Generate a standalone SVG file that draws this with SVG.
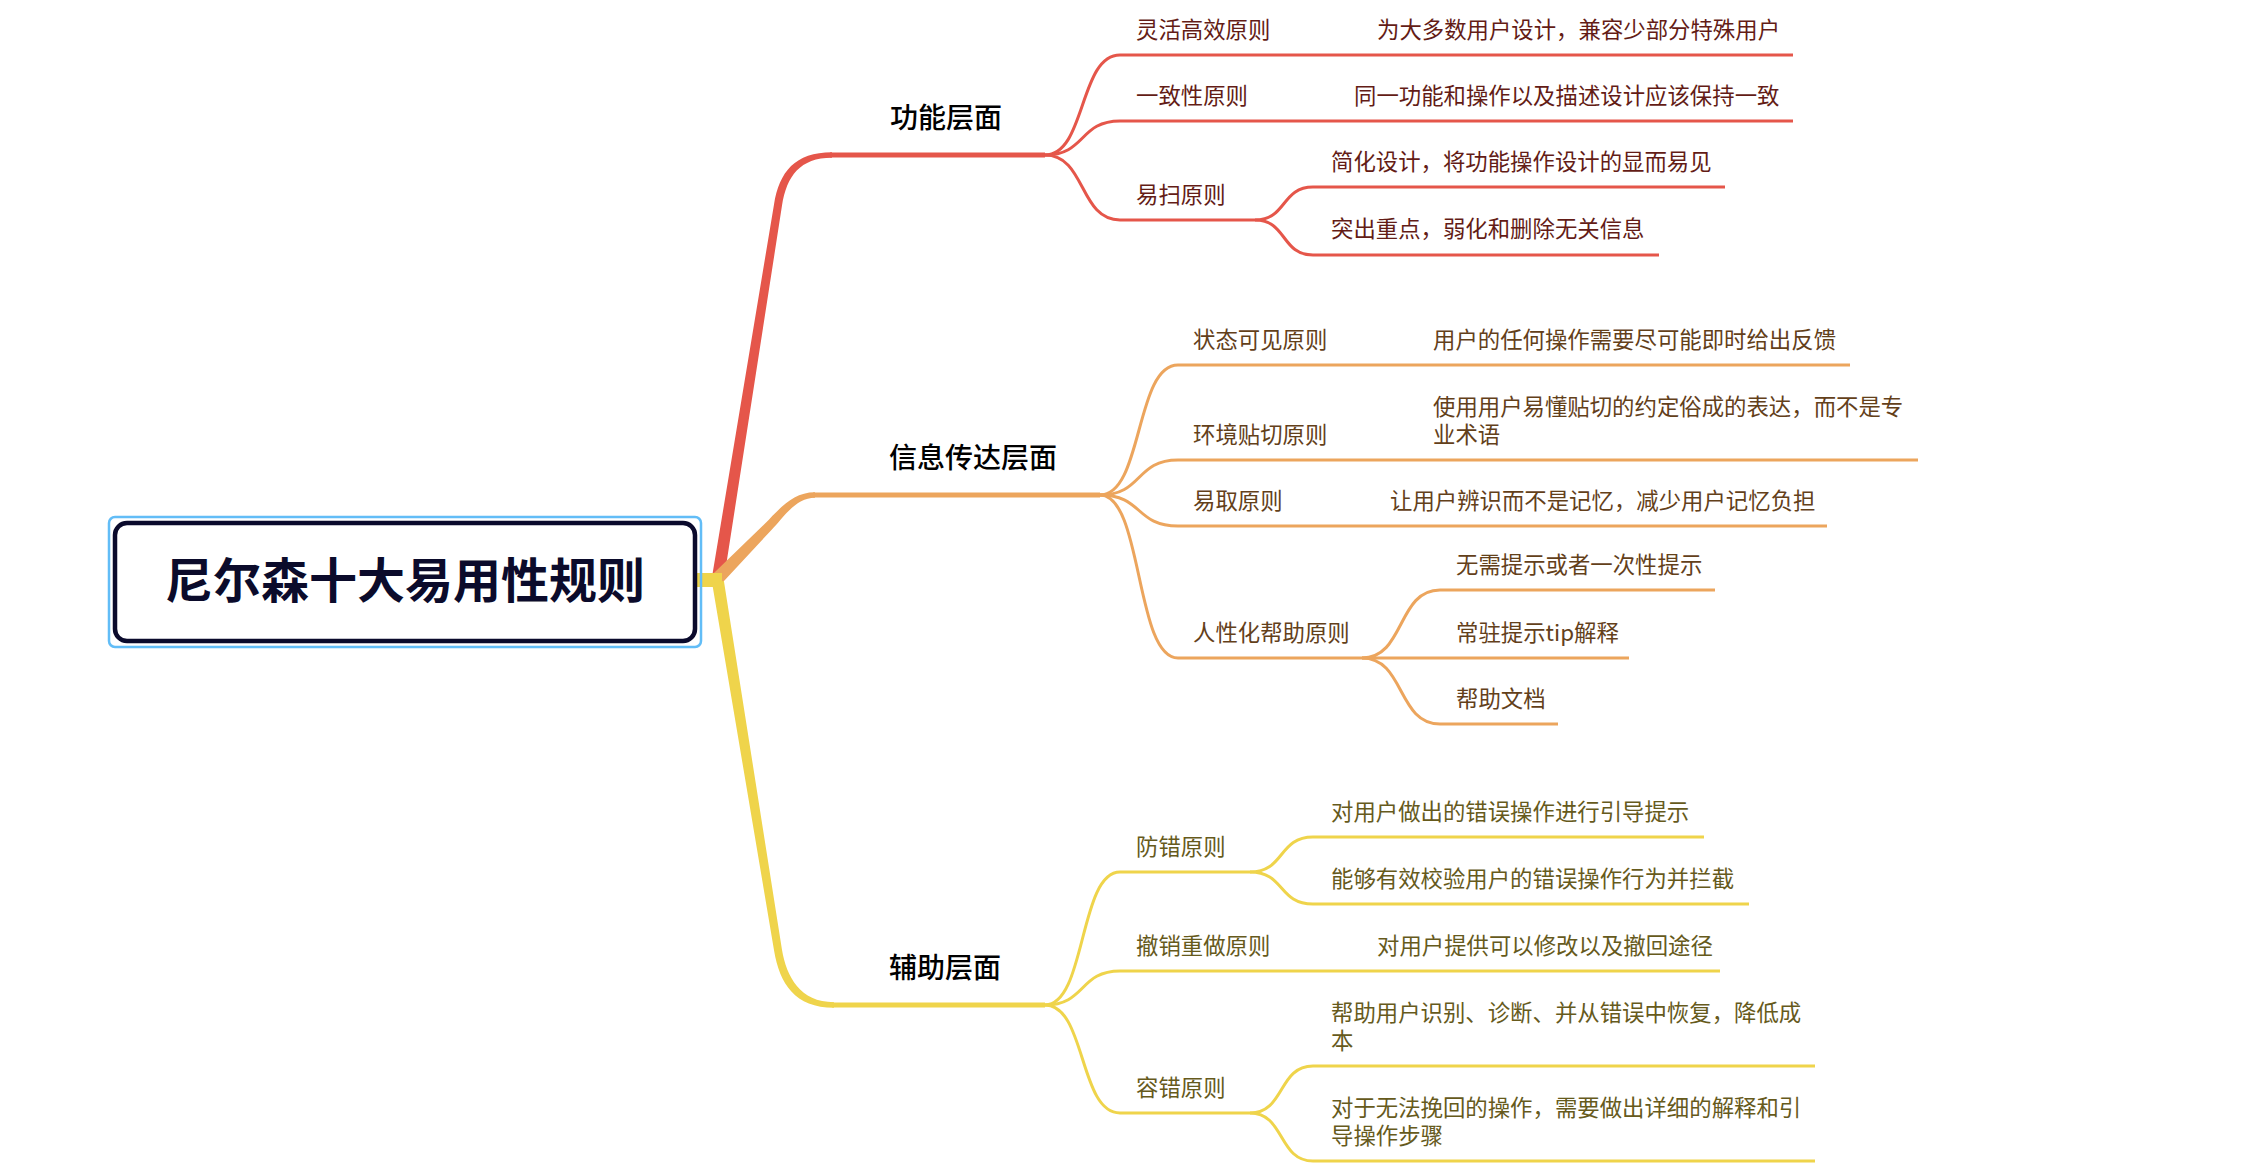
<svg xmlns="http://www.w3.org/2000/svg" width="2258" height="1168" viewBox="0 0 2258 1168">
<style>
text{font-family:"Noto Sans CJK SC","Noto Sans",sans-serif;}
.root{font-size:48px;font-weight:700;fill:#0b0b2b;}
.l1{font-size:28px;font-weight:500;fill:#000;}
.t{font-size:22.4px;}
.tr{fill:#631c16;}
.to{fill:#63401a;}
.ty{fill:#665a1c;}
.lr{stroke:#e5564a;fill:none;}
.lo{stroke:#eca55d;fill:none;}
.ly{stroke:#efd44b;fill:none;}
.w1{stroke-width:5;}
.w2{stroke-width:3;}
</style>
<rect width="2258" height="1168" fill="#ffffff"/>
<g id="connectors">
  <path d="M712,577 L774,204.4 C779.3,171.8 795,152.2 832,152.2 L832,157.8 C800,157.8 786.8,176 782,205.6 L724,579 Z" fill="#e5564a"/>
  <path d="M713.4,573.4 L764.8,523.8 C778.8,509.8 792,492.2 815,492.2 L815,497.8 C795,497.8 782.2,519.2 771.2,530.2 L722.6,582.6 Z" fill="#eca55d"/>
  <rect x="697" y="573" width="25" height="14" fill="#efd44b"/>
  <path d="M723.9,581 L781.9,949.3 C786.5,976.9 800,1002.2 834,1002.2 L834,1007.8 C795,1007.8 779.5,983.3 774.1,950.7 L712.1,583 Z" fill="#efd44b"/>
  <g class="lr w2">
    <path d="M1045,155 C1086,155 1079,55 1120,55"/>
    <path d="M1045,155 C1086,155 1079,121 1120,121"/>
    <path d="M1045,155 C1086,155 1079,220 1120,220"/>
    <path d="M1255,220 C1287,220 1281,187 1313,187"/>
    <path d="M1255,220 C1287,220 1281,255 1313,255"/>
  </g>
  <g class="lo w2">
    <path d="M1100,495 C1143,495 1135,365 1178,365"/>
    <path d="M1100,495 C1143,495 1135,460 1178,460"/>
    <path d="M1100,495 C1143,495 1135,526 1178,526"/>
    <path d="M1100,495 C1143,495 1135,658 1178,658"/>
    <path d="M1362,658 C1405,658 1397,590 1440,590"/>
    <path d="M1362,658 L1440,658"/>
    <path d="M1362,658 C1405,658 1397,724 1440,724"/>
  </g>
  <g class="ly w2">
    <path d="M1045,1005 C1086,1005 1079,872 1120,872"/>
    <path d="M1045,1005 C1086,1005 1079,971 1120,971"/>
    <path d="M1045,1005 C1086,1005 1079,1113 1120,1113"/>
    <path d="M1250,872 C1285,872 1278,837 1313,837"/>
    <path d="M1250,872 C1285,872 1278,904 1313,904"/>
    <path d="M1250,1113 C1285,1113 1278,1066 1313,1066"/>
    <path d="M1250,1113 C1285,1113 1278,1161 1313,1161"/>
  </g>
</g>
<g id="root">
  <rect x="109" y="517" width="592" height="130" rx="6" fill="none" stroke="#62bdf7" stroke-width="2.5"/>
  <rect x="115" y="523" width="580" height="118" rx="12" fill="#ffffff" stroke="#0a0a2c" stroke-width="4.5"/>
  <text class="root" x="405" y="598" text-anchor="middle">尼尔森十大易用性规则</text>
</g>
<g id="b1">
  <line class="lr w1" x1="830" y1="155" x2="1045" y2="155"/>
  <text class="l1" x="890" y="128">功能层面</text>
</g>
<g id="b2">
  <line class="lo w1" x1="813" y1="495" x2="1100" y2="495"/>
  <text class="l1" x="889" y="468">信息传达层面</text>
</g>
<g id="b3">
  <line class="ly w1" x1="832" y1="1005" x2="1045" y2="1005"/>
  <text class="l1" x="889" y="978">辅助层面</text>
</g>
<g id="n-lhgx">
  <line class="lr w2" x1="1120" y1="55" x2="1300" y2="55"/>
  <text class="t tr" x="1136" y="37.5">灵活高效原则</text>
</g>
<g id="n-lhgx-1">
  <line class="lr w2" x1="1300" y1="55" x2="1793" y2="55"/>
  <text class="t tr" x="1377" y="37.5">为大多数用户设计，兼容少部分特殊用户</text>
</g>
<g id="n-yzx">
  <line class="lr w2" x1="1120" y1="121" x2="1300" y2="121"/>
  <text class="t tr" x="1136" y="103.5">一致性原则</text>
</g>
<g id="n-yzx-1">
  <line class="lr w2" x1="1300" y1="121" x2="1793" y2="121"/>
  <text class="t tr" x="1354" y="103.5">同一功能和操作以及描述设计应该保持一致</text>
</g>
<g id="n-ys">
  <line class="lr w2" x1="1120" y1="220" x2="1255" y2="220"/>
  <text class="t tr" x="1136" y="202.5">易扫原则</text>
</g>
<g id="n-ys-1">
  <line class="lr w2" x1="1313" y1="187" x2="1725" y2="187"/>
  <text class="t tr" x="1331" y="169.5">简化设计，将功能操作设计的显而易见</text>
</g>
<g id="n-ys-2">
  <line class="lr w2" x1="1313" y1="255" x2="1659" y2="255"/>
  <text class="t tr" x="1331" y="237">突出重点，弱化和删除无关信息</text>
</g>
<g id="n-ztkj">
  <line class="lo w2" x1="1178" y1="365" x2="1420" y2="365"/>
  <text class="t to" x="1193" y="347.5">状态可见原则</text>
</g>
<g id="n-ztkj-1">
  <line class="lo w2" x1="1420" y1="365" x2="1850" y2="365"/>
  <text class="t to" x="1433" y="347.5">用户的任何操作需要尽可能即时给出反馈</text>
</g>
<g id="n-hjtq">
  <line class="lo w2" x1="1178" y1="460" x2="1420" y2="460"/>
  <text class="t to" x="1193" y="442.5">环境贴切原则</text>
</g>
<g id="n-hjtq-1">
  <line class="lo w2" x1="1420" y1="460" x2="1918" y2="460"/>
  <text class="t to" x="1433" y="414.5">使用用户易懂贴切的约定俗成的表达，而不是专</text>
  <text class="t to" x="1433" y="442.5">业术语</text>
</g>
<g id="n-yq">
  <line class="lo w2" x1="1178" y1="526" x2="1375" y2="526"/>
  <text class="t to" x="1193" y="508.5">易取原则</text>
</g>
<g id="n-yq-1">
  <line class="lo w2" x1="1375" y1="526" x2="1827" y2="526"/>
  <text class="t to" x="1390" y="508.5">让用户辨识而不是记忆，减少用户记忆负担</text>
</g>
<g id="n-rxh">
  <line class="lo w2" x1="1178" y1="658" x2="1362" y2="658"/>
  <text class="t to" x="1193" y="640.5">人性化帮助原则</text>
</g>
<g id="n-rxh-1">
  <line class="lo w2" x1="1440" y1="590" x2="1715" y2="590"/>
  <text class="t to" x="1456" y="572.5">无需提示或者一次性提示</text>
</g>
<g id="n-rxh-2">
  <line class="lo w2" x1="1440" y1="658" x2="1629" y2="658"/>
  <text class="t to" x="1456" y="640.5">常驻提示tip解释</text>
</g>
<g id="n-rxh-3">
  <line class="lo w2" x1="1440" y1="724" x2="1558" y2="724"/>
  <text class="t to" x="1456" y="706.5">帮助文档</text>
</g>
<g id="n-fc">
  <line class="ly w2" x1="1120" y1="872" x2="1250" y2="872"/>
  <text class="t ty" x="1136" y="854.5">防错原则</text>
</g>
<g id="n-fc-1">
  <line class="ly w2" x1="1313" y1="837" x2="1704" y2="837"/>
  <text class="t ty" x="1331" y="819.5">对用户做出的错误操作进行引导提示</text>
</g>
<g id="n-fc-2">
  <line class="ly w2" x1="1313" y1="904" x2="1749" y2="904"/>
  <text class="t ty" x="1331" y="886.5">能够有效校验用户的错误操作行为并拦截</text>
</g>
<g id="n-cxcz">
  <line class="ly w2" x1="1120" y1="971" x2="1360" y2="971"/>
  <text class="t ty" x="1136" y="953.5">撤销重做原则</text>
</g>
<g id="n-cxcz-1">
  <line class="ly w2" x1="1360" y1="971" x2="1720" y2="971"/>
  <text class="t ty" x="1377" y="953.5">对用户提供可以修改以及撤回途径</text>
</g>
<g id="n-rc">
  <line class="ly w2" x1="1120" y1="1113" x2="1250" y2="1113"/>
  <text class="t ty" x="1136" y="1095.5">容错原则</text>
</g>
<g id="n-rc-1">
  <line class="ly w2" x1="1313" y1="1066" x2="1815" y2="1066"/>
  <text class="t ty" x="1331" y="1020.5">帮助用户识别、诊断、并从错误中恢复，降低成</text>
  <text class="t ty" x="1331" y="1048.5">本</text>
</g>
<g id="n-rc-2">
  <line class="ly w2" x1="1313" y1="1161" x2="1815" y2="1161"/>
  <text class="t ty" x="1331" y="1115.5">对于无法挽回的操作，需要做出详细的解释和引</text>
  <text class="t ty" x="1331" y="1143.5">导操作步骤</text>
</g>
</svg>
